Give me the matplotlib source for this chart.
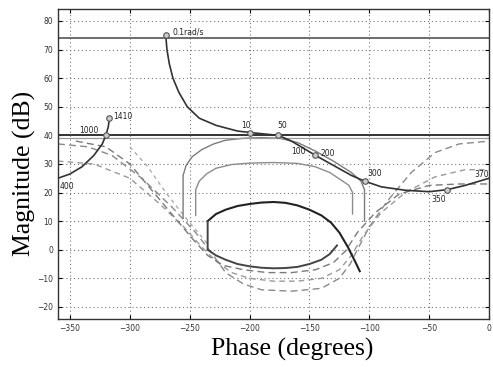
import numpy as np
import matplotlib
matplotlib.use('Agg')
import matplotlib.pyplot as plt

# open-loop response (phase in degrees, magnitude in dB)
loop_phase = [-270, -269, -267, -264, -259, -252, -242, -228, -210, -195, -176,
              -165, -155, -145, -130, -115, -104, -90, -70, -50, -35, -20, 0]
loop_mag = [75, 70, 65, 60, 55, 50, 46, 43.5, 41.5, 40.8, 40,
            38, 35.5, 33, 29.5, 26, 24, 22, 20.8, 20.3, 21, 22.5, 25]
# part of the loop that wraps back in from the left edge
wrap_phase = [-360, -350, -340, -330, -323, -320, -318, -317]
wrap_mag = [25, 26.5, 29, 33, 37, 40, 43, 46]

# frequency markers (rad/s) on the loop
freq_labels = ['0.1rad/s', '10', '50', '100', '200', '300', '350', '370', '400', '1000', '1410']
freq_phase = [-270, -200, -176, -165, -145, -104, -35, -3, -358, -320, -317]
freq_mag = [75, 41, 40, 38, 33, 24, 21, 24.6, 25.2, 40, 46]
freq_marked = [True, True, True, False, True, True, True, False, False, True, True]
label_offset = [(6, 1), (-7, 2.5), (-1, 3.5), (0, -3.5), (4, 0.5), (2, 2.5), (-13, -3.5),
                (-9, 1.8), (-1, -3), (-22, 1.8), (3, 0.5)]

# horizontal bounds
hbound_mag = [74, 40, 39]

# closed bound
ell_top_phase = [-235, -228, -220, -210, -200, -190, -180, -170, -160, -150, -140,
                 -132, -125, -118, -112, -108]
ell_top_mag = [10, 12.5, 14, 15.3, 16, 16.5, 16.7, 16.4, 15.5, 14, 12, 9.5, 6, 1, -4, -7.5]
ell_bot_phase = [-235, -235, -228, -220, -210, -200, -190, -180, -170, -160, -150, -140,
                 -133, -127]
ell_bot_mag = [10, 0, -2, -3.5, -5, -5.8, -6.3, -6.5, -6.4, -6, -5, -3.5, -1.5, 1.5]

# open-topped bounds (solid)
archA_phase = [-255.5, -255.5, -253, -248, -240, -230, -220, -205, -190, -175, -160,
               -145, -130, -115, -107, -104, -104]
archA_mag = [11, 26, 29.5, 32.5, 35, 37, 38.3, 39, 39.2, 39, 37.5, 34.5, 31, 27, 24, 21, 10]
archB_phase = [-245, -245, -242, -236, -228, -215, -200, -180, -160, -145, -133,
               -124, -117, -114, -114]
archB_mag = [12, 21, 24, 26.5, 28.5, 29.8, 30.3, 30.5, 30.2, 29, 27, 24.5, 22.5, 20, 12.5]

# dashed bounds
dash1_phase = [-360, -335, -315, -290, -265, -245, -232, -220, -205, -190, -165,
               -140, -125, -116, -110, -100, -85, -65, -45, -25, 0]
dash1_mag = [37, 36, 33, 25, 15, 6, -1, -8, -12, -14, -14.5, -13.5, -10, -5, 0, 8, 17,
             27, 34, 37, 38]
dash2_phase = [-360, -330, -300, -275, -255, -240, -228, -215, -200, -180, -160,
               -140, -125, -115, -105, -90, -70, -45, -20, 0]
dash2_mag = [31, 30, 25, 16, 8, 1, -4, -8, -10, -11, -11, -10, -7, -2, 5, 13, 20, 25.5,
             28, 28]
dash3_phase = [-345, -320, -300, -280, -262, -248, -235, -222, -205, -185, -165,
               -145, -130, -120, -110, -95, -75, -50, -25, 0]
dash3_mag = [38, 36, 30, 20, 11, 4, -2, -5.5, -7, -8, -8, -7, -4.5, -0.5, 6, 13, 19.5,
             22.5, 23, 23]
dash4_phase = [-300, -285, -270, -255, -243, -235]
dash4_mag = [36, 29, 20, 12, 6, 2]

x_ticks = [-350, -300, -250, -200, -150, -100, -50, 0]
y_ticks = [-20, -10, 0, 10, 20, 30, 40, 50, 60, 70, 80]

fig = plt.figure(figsize=(4.93, 3.67), dpi=100)
ax = fig.add_axes([0.1176, 0.131, 0.8744, 0.8445])

ax.plot(dash1_phase, dash1_mag, color='#8a8a8a', lw=1.0, dashes=(5, 3))
ax.plot(dash2_phase, dash2_mag, color='#9a9a9a', lw=1.0, dashes=(4, 3))
ax.plot(dash3_phase, dash3_mag, color='#7a7a7a', lw=1.0, dashes=(5, 3))
ax.plot(dash4_phase, dash4_mag, color='#a5a5a5', lw=0.9, dashes=(3, 3))

ax.plot(archA_phase, archA_mag, color='#7c7c7c', lw=1.0)
ax.plot(archB_phase, archB_mag, color='#8c8c8c', lw=1.0)

ax.plot(ell_top_phase, ell_top_mag, color='#222222', lw=1.5)
ax.plot(ell_bot_phase, ell_bot_mag, color='#444444', lw=1.4)

ax.axhline(hbound_mag[0], color='#555555', lw=1.2)
ax.axhline(hbound_mag[1], color='#333333', lw=1.4)
ax.axhline(hbound_mag[2], color='#999999', lw=0.9)

ax.plot(loop_phase, loop_mag, color='#333333', lw=1.2)
ax.plot(wrap_phase, wrap_mag, color='#333333', lw=1.2)

for lab, xp, yp, mk, (dx, dy) in zip(freq_labels, freq_phase, freq_mag, freq_marked, label_offset):
    if mk:
        ax.plot(xp, yp, 'o', ms=4, mfc='#cccccc', mec='#555555', mew=0.8)
    ax.text(xp + dx, yp + dy, lab, fontsize=5.5, color='#222222', va='center', ha='left')

ax.set_xlim(-360, 0)
ax.set_ylim(-24.2, 84.2)
ax.set_xticks(x_ticks)
ax.set_yticks(y_ticks)
ax.tick_params(direction='in', top=True, right=True, labelsize=5.5, length=3,
               labelcolor='#333333')
ax.grid(True, color='#777777', linestyle=(0, (1, 2.5)), lw=0.8)
for s in ax.spines.values():
    s.set_color('#333333')
    s.set_linewidth(1.0)

ax.set_xlabel('Phase (degrees)', family='Liberation Serif', fontsize=18.5)
ax.set_ylabel('Magnitude (dB)', family='Liberation Serif', fontsize=18.5)
ax.xaxis.set_label_coords(0.544, -0.062)
ax.yaxis.set_label_coords(-0.051, 0.471)

fig.savefig('out.png', dpi=100)
